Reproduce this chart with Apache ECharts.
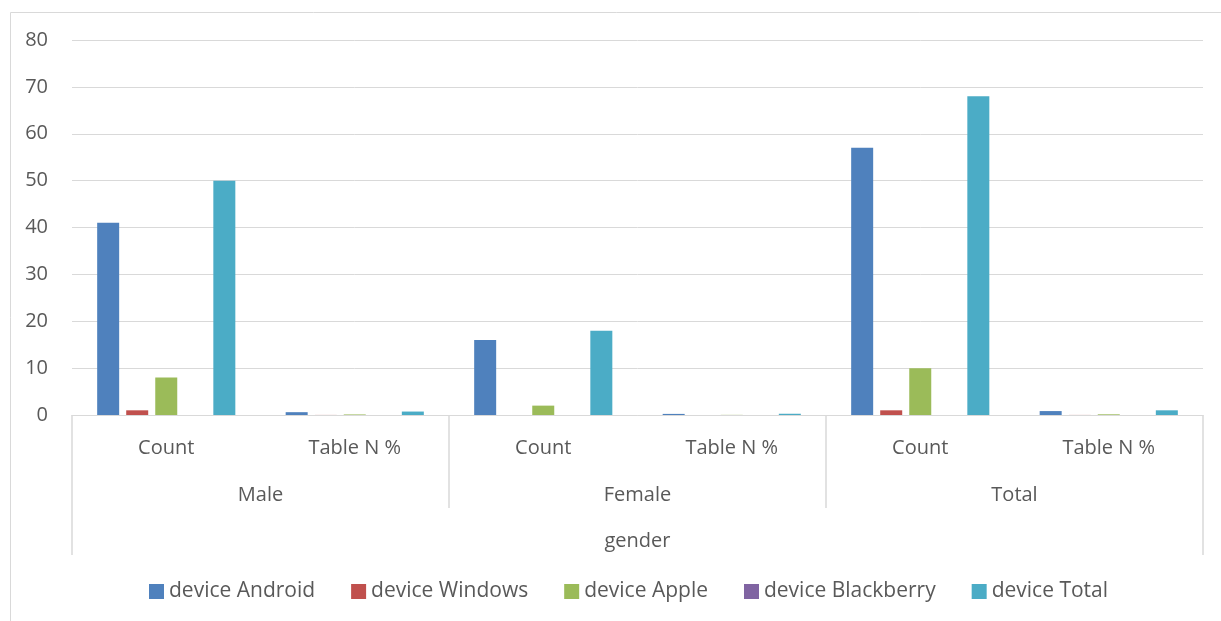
<!DOCTYPE html>
<html>
<head>
<meta charset="utf-8">
<script src="https://cdn.jsdelivr.net/npm/echarts@6/dist/echarts.min.js"></script>
<style>html,body{margin:0;padding:0;background:#fff}#c{width:1221px;height:621px}</style>
</head>
<body>
<div id="c"></div>
<script>
const categories = ['Count', 'Table N %', 'Count', 'Table N %', 'Count', 'Table N %'];
const groups = ['Male', 'Female', 'Total'];
const outerLabel = ['gender'];
const seriesNames = ['device Android', 'device Windows', 'device Apple', 'device Blackberry', 'device Total'];
const android = [41, 0.603, 16, 0.235, 57, 0.838];
const windows = [1, 0.015, 0, 0, 1, 0.015];
const apple = [8, 0.118, 2, 0.029, 10, 0.147];
const blackberry = [0, 0, 0, 0, 0, 0];
const total = [50, 0.735, 18, 0.265, 68, 1.0];
const colors = ['#4F81BD', '#C0504D', '#9BBB59', '#8064A2', '#4BACC6'];

const values = [android, windows, apple, blackberry, total];
const font = '"Open Sans", "Liberation Sans", sans-serif';
const lineColor = '#d9d9d9';
const textColor = '#595959';

const chart = echarts.init(document.getElementById('c'));
chart.setOption({
  animation: false,
  color: colors,
  textStyle: { fontFamily: font },
  graphic: [{
    type: 'rect', left: 8, top: 10, silent: true, z: -10,
    shape: { width: 1300, height: 700 },
    style: { fill: 'none', stroke: lineColor, lineWidth: 1 }
  }],
  grid: { left: 72, right: 18, top: 40, bottom: 206, containLabel: false },
  legend: {
    bottom: 14, left: 144, itemWidth: 15, itemHeight: 15, itemGap: 36,
    icon: 'rect',
    textStyle: { fontSize: 21, color: textColor, fontFamily: font },
    data: seriesNames
  },
  xAxis: [
    {
      type: 'category', data: categories, position: 'bottom',
      axisLine: { show: true, lineStyle: { color: lineColor, width: 1 } },
      axisTick: { show: false },
      axisLabel: { fontSize: 20, color: textColor, margin: 23, fontFamily: font }
    },
    {
      type: 'category', data: groups, position: 'bottom',
      axisLine: { show: false },
      axisTick: { show: true, length: 93, lineStyle: { color: lineColor, width: 1.5 } },
      axisLabel: { fontSize: 20, color: textColor, margin: 70, fontFamily: font }
    },
    {
      type: 'category', data: outerLabel, position: 'bottom',
      axisLine: { show: false },
      axisTick: { show: true, length: 140, lineStyle: { color: lineColor, width: 1.5 } },
      axisLabel: { fontSize: 20, color: textColor, margin: 116, fontFamily: font }
    }
  ],
  yAxis: {
    type: 'value', min: 0, max: 80, interval: 10,
    axisLine: { show: false }, axisTick: { show: false },
    splitLine: { lineStyle: { color: lineColor, width: 1 } },
    axisLabel: { fontSize: 20, color: textColor, margin: 24, fontFamily: font }
  },
  series: seriesNames.map((n, i) => ({
    name: n, type: 'bar', xAxisIndex: 0, data: values[i],
    barWidth: 22, barGap: '32%',
    itemStyle: { color: colors[i] }
  }))
});
</script>
</body>
</html>
